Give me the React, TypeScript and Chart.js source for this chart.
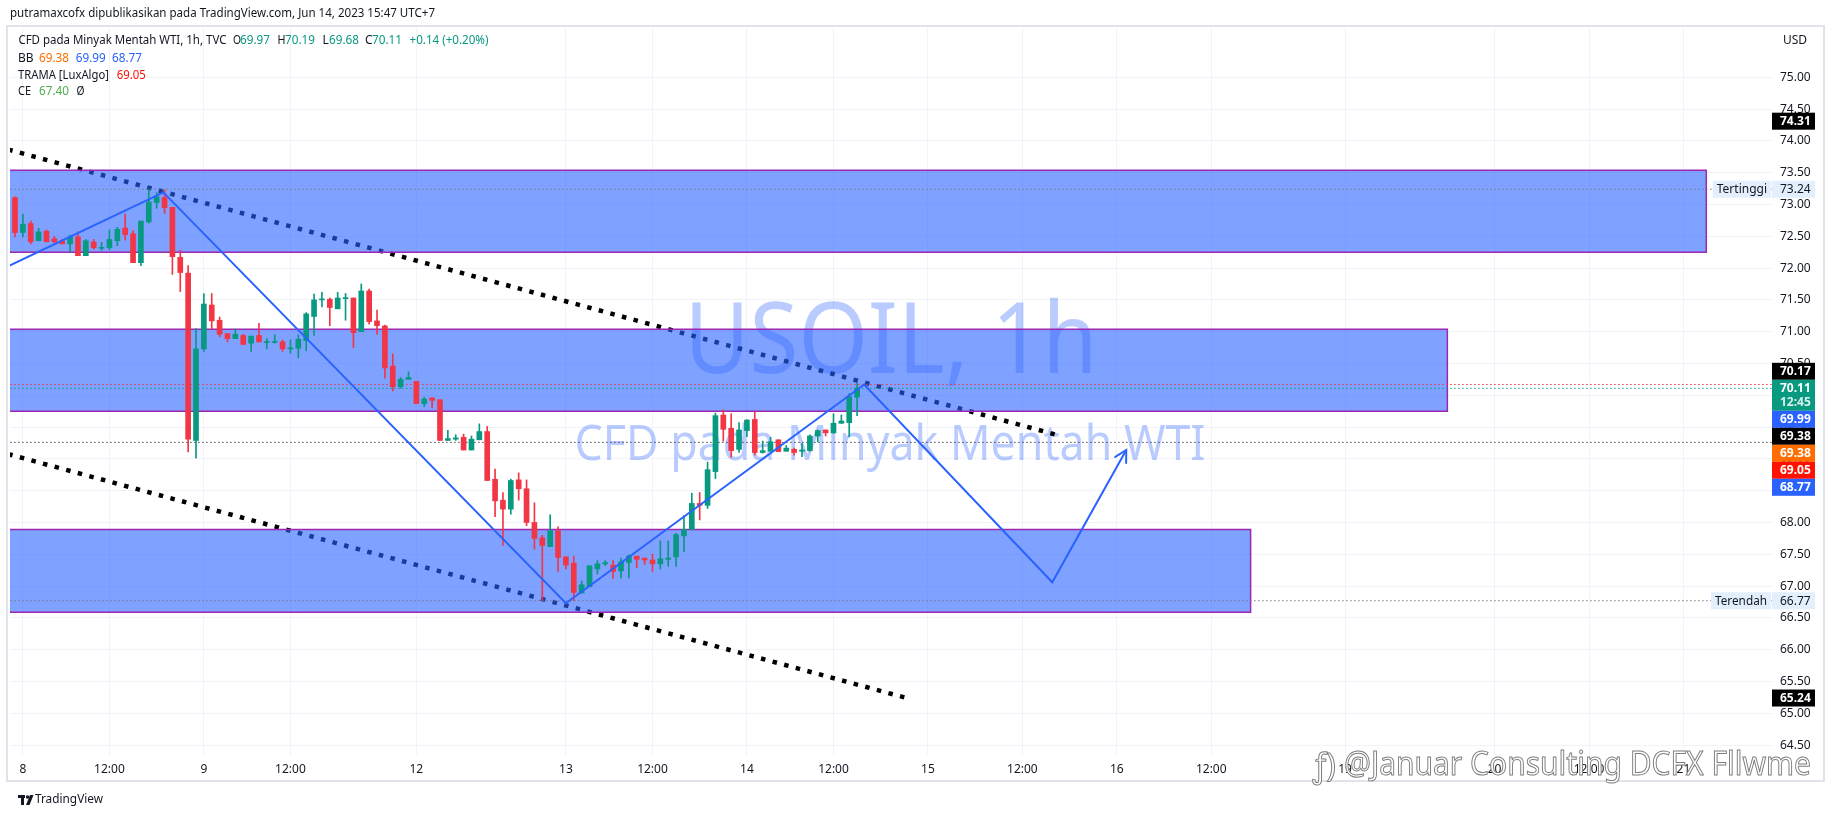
import React, { useEffect, useRef } from "react";
import { Chart, registerables } from "chart.js";

Chart.register(...registerables);

// ---------- data ----------
const opens = [
  73.11, 72.56, 72.70, 72.43, 72.58, 72.46, 72.43, 72.38, 72.49, 72.195,
  72.41, 72.31, 72.32, 72.43, 72.63, 72.54, 72.085, 72.725, 73.03, 73.11,
  72.955, 72.17, 71.92, 69.29, 70.73, 71.42, 71.18, 70.97, 70.89, 70.94,
  70.82, 70.94, 70.83, 70.83, 70.84, 70.73, 70.74, 70.86, 71.24, 71.50,
  71.51, 71.36, 71.52, 71.53, 71.00, 71.64, 71.17, 71.09, 70.46, 70.135,
  70.25, 70.22, 69.87, 69.96, 69.93, 69.29, 69.31, 69.34, 69.14, 69.30,
  69.43, 68.68, 68.35, 68.21, 68.67, 68.53, 68.00, 67.76, 67.62, 67.87,
  67.46, 67.36, 66.89, 66.99, 67.27, 67.35, 67.33, 67.24, 67.37, 67.47,
  67.44, 67.41, 67.35, 67.42, 67.46, 67.79, 67.89, 68.30, 68.27, 68.80,
  69.69, 69.48, 69.15, 69.445, 69.62, 69.10, 69.12, 69.30, 69.12, 69.15,
  69.12, 69.13, 69.36, 69.455, 69.41, 69.56, 69.57, 69.97,
];
const highs = [
  73.12, 72.85, 72.74, 72.625, 72.60, 72.50, 72.45, 72.52, 72.57, 72.45,
  72.45, 72.405, 72.60, 72.64, 72.85, 72.59, 72.74, 73.24, 73.185, 73.23,
  72.955, 72.28, 72.04, 71.05, 71.60, 71.60, 71.23, 70.97, 71.04, 70.96,
  70.93, 71.13, 70.89, 70.95, 70.87, 70.87, 70.95, 71.30, 71.59, 71.62,
  71.53, 71.62, 71.60, 71.53, 71.75, 71.67, 71.34, 71.105, 70.65, 70.28,
  70.37, 70.22, 69.97, 69.96, 69.93, 69.45, 69.38, 69.39, 69.36, 69.55,
  69.51, 68.84, 68.47, 68.68, 68.78, 68.67, 68.31, 67.80, 68.12, 67.93,
  67.46, 67.47, 67.08, 67.32, 67.40, 67.40, 67.40, 67.44, 67.49, 67.47,
  67.44, 67.50, 67.71, 67.71, 67.83, 68.11, 68.46, 68.47, 68.95, 69.72,
  69.77, 69.71, 69.57, 69.62, 69.74, 69.28, 69.34, 69.30, 69.21, 69.17,
  69.24, 69.38, 69.455, 69.455, 69.71, 69.69, 70.03, 70.19,
];
const lows = [
  72.49, 72.49, 72.38, 72.43, 72.41, 72.40, 72.38, 72.26, 72.195, 72.195,
  72.295, 72.28, 72.285, 72.35, 72.44, 72.085, 72.04, 72.71, 72.94, 72.86,
  71.90, 71.63, 69.11, 69.01, 70.69, 71.04, 70.92, 70.84, 70.89, 70.80,
  70.69, 70.84, 70.73, 70.82, 70.69, 70.66, 70.59, 70.70, 70.94, 71.39,
  71.095, 71.36, 71.18, 70.75, 71.00, 71.12, 70.96, 70.27, 70.07, 70.11,
  70.25, 69.87, 69.82, 69.80, 69.29, 69.29, 69.29, 69.14, 69.14, 69.30,
  68.66, 68.09, 67.64, 68.13, 68.35, 67.95, 67.58, 66.78, 67.62, 67.23,
  67.27, 66.77, 66.89, 66.99, 67.19, 67.32, 67.12, 67.13, 67.13, 67.29,
  67.34, 67.23, 67.27, 67.31, 67.31, 67.54, 67.89, 68.04, 68.22, 68.69,
  69.28, 69.025, 69.10, 69.35, 69.06, 69.09, 69.12, 69.115, 69.12, 69.06,
  69.035, 69.12, 69.27, 69.36, 69.40, 69.56, 69.35, 69.68,
];
const closes = [
  72.56, 72.69, 72.415, 72.57, 72.415, 72.415, 72.38, 72.49, 72.195, 72.43,
  72.32, 72.32, 72.45, 72.61, 72.525, 72.085, 72.74, 73.04, 73.12, 72.95,
  72.18, 71.93, 69.31, 70.73, 71.435, 71.17, 70.96, 70.89, 70.96, 70.80,
  70.93, 70.84, 70.84, 70.84, 70.73, 70.74, 70.88, 71.28, 71.50, 71.51,
  71.38, 71.53, 71.53, 70.985, 71.64, 71.16, 71.095, 70.43, 70.135, 70.25,
  70.28, 69.87, 69.94, 69.92, 69.29, 69.32, 69.33, 69.14, 69.31, 69.43,
  68.66, 68.34, 68.21, 68.66, 68.53, 68.00, 67.75, 67.64, 67.87, 67.45,
  67.33, 66.90, 67.02, 67.32, 67.35, 67.37, 67.23, 67.38, 67.47, 67.42,
  67.41, 67.35, 67.43, 67.44, 67.81, 67.89, 68.30, 68.27, 68.83, 69.68,
  69.465, 69.13, 69.455, 69.61, 69.10, 69.13, 69.27, 69.115, 69.17, 69.10,
  69.14, 69.36, 69.445, 69.41, 69.56, 69.595, 69.98, 70.11,
];

const xTickIndex = [1, 12, 24, 35, 51, 70, 81, 93, 104, 116, 128, 140, 152, 169, 188, 200, 212];
const xTickLabels = ["8", "12:00", "9", "12:00", "12", "13", "12:00", "14", "12:00", "15", "12:00", "16", "12:00", "19", "20", "12:00", "21"];
const yTickValues = [64.5, 65, 65.5, 66, 66.5, 67, 67.5, 68, 68.5, 69, 69.5, 70, 70.5, 71, 71.5, 72, 72.5, 73, 73.5, 74, 74.5, 75];

const upperChannelX = [-14.1, 132.3];
const upperChannelY = [74.31, 69.38];
const lowerChannelX = [-14.1, 113.3];
const lowerChannelY = [69.52, 65.24];
const pathX = [-14.1, 18.85, 70.0, 107.9, 131.8, 141.2];
const pathY = [71.25, 73.19, 66.73, 70.17, 67.06, 69.14];

const zoneStart = [-20, -20, -20];
const zoneEnd = [214.9, 182.0, 157.0];
const zoneTop = [73.54, 71.04, 67.89];
const zoneBottom = [72.25, 69.75, 66.59];

const priceLineValues = [73.24, 70.17, 70.11, 69.26, 66.77];
const priceLineColors = ["#787b86", "#f23645", "#089981", "#434651", "#787b86"];

const axisLabelValues = [74.31, 73.24, 70.17, 70.11, 69.99, 69.38, 69.38, 69.05, 68.77, 66.77, 65.24];
const axisLabelColors = ["#000000", "#e3effd", "#000000", "#089981", "#2962ff", "#000000", "#ff6d00", "#ff1100", "#2962ff", "#e3effd", "#000000"];
const axisLabelTags = ["", "Tertinggi", "", "", "", "", "", "", "", "Terendah", ""];
const countdownText = "12:45";

const X_MIN = -0.635;
const X_MAX = 223.25;
const Y_MIN = 64.344;
const Y_MAX = 75.791;

const GREEN = "#089981";
const RED = "#f23645";
const FONT = "'Noto Sans', 'DejaVu Sans', sans-serif";
const TEXT = "#131722";

function txt(ctx: any, s: string, x: number, y: number, color: string, font: string, maxW?: number) {
  ctx.fillStyle = color;
  ctx.font = font;
  ctx.textBaseline = "middle";
  ctx.textAlign = "left";
  if (maxW) ctx.fillText(s, x, y, maxW);
  else ctx.fillText(s, x, y);
}

const pagePlugin = {
  id: "page",
  beforeDraw(chart: any) {
    const ctx = chart.ctx;
    ctx.save();
    ctx.fillStyle = "#ffffff";
    ctx.fillRect(0, 0, chart.width, chart.height);
    ctx.restore();
  },
  beforeDatasetsDraw(chart: any) {
    const ctx = chart.ctx;
    const a = chart.chartArea;
    ctx.save();
    ctx.beginPath();
    ctx.rect(a.left, a.top, a.right - a.left, a.bottom - a.top);
    ctx.clip();
    ctx.fillStyle = "rgba(41, 98, 255, 0.33)";
    ctx.textAlign = "center";
    ctx.textBaseline = "middle";
    ctx.font = `98px ${FONT}`;
    ctx.fillText("USOIL, 1h", 891, 345, 413);
    ctx.font = `49px ${FONT}`;
    ctx.fillText("CFD pada Minyak Mentah WTI", 890, 446, 631);
    ctx.restore();
  },
  afterDatasetsDraw(chart: any) {
    // arrow head at the end of the projected path
    const meta = chart.getDatasetMeta(chart.data.datasets.length - 1);
    const pts = meta.data;
    const p1 = pts[pts.length - 2];
    const p2 = pts[pts.length - 1];
    const ang = Math.atan2(p2.y - p1.y, p2.x - p1.x);
    const ctx = chart.ctx;
    ctx.save();
    ctx.strokeStyle = "#2962ff";
    ctx.lineWidth = 2;
    ctx.lineCap = "round";
    ctx.beginPath();
    const L = 13;
    ctx.moveTo(p2.x - L * Math.cos(ang - 0.5), p2.y - L * Math.sin(ang - 0.5));
    ctx.lineTo(p2.x, p2.y);
    ctx.lineTo(p2.x - L * Math.cos(ang + 0.5), p2.y - L * Math.sin(ang + 0.5));
    ctx.stroke();
    ctx.restore();
  },
  afterDraw(chart: any) {
    const ctx = chart.ctx;
    const ys = chart.scales.y;
    const a = chart.chartArea;
    ctx.save();

    // frame
    ctx.strokeStyle = "#e0e3eb";
    ctx.lineWidth = 2;
    ctx.strokeRect(7, 26, 1824 - 7, 781 - 26);

    // header
    txt(ctx, "putramaxcofx dipublikasikan pada TradingView.com, Jun 14, 2023 15:47 UTC+7", 10, 13, TEXT, `13px ${FONT}`, 425);

    // legend
    const f = `12px ${FONT}`;
    const segs: any[] = [
      ["CFD pada Minyak Mentah WTI, 1h, TVC", 18.4, 41, TEXT, 208],
      ["O", 233, 41, TEXT, 8], ["69.97", 240, 41, GREEN, 30],
      ["H", 277.5, 41, TEXT, 8], ["70.19", 285, 41, GREEN, 30],
      ["L", 322.5, 41, TEXT, 7], ["69.68", 329, 41, GREEN, 30],
      ["C", 365, 41, TEXT, 8], ["70.11", 372, 41, GREEN, 30],
      ["+0.14 (+0.20%)", 409.5, 41, GREEN, 79],
      ["BB", 18, 58.5, TEXT, 16], ["69.38", 39, 58.5, "#ff6d00", 30],
      ["69.99", 75.8, 58.5, "#2962ff", 30], ["68.77", 112, 58.5, "#2962ff", 30],
      ["TRAMA [LuxAlgo]", 18, 75.5, TEXT, 91], ["69.05", 116.7, 75.5, "#ff1100", 29],
      ["CE", 18, 92, TEXT, 13], ["67.40", 39, 92, "#4caf50", 30], ["Ø", 76.5, 92, TEXT, 8],
    ];
    segs.forEach((s) => txt(ctx, s[0], s[1], s[2], s[3], f, s[4]));

    // currency
    txt(ctx, "USD", 1783, 41, TEXT, `12px ${FONT}`);

    // price labels on the axis, stacked around the last price
    const H = 17;
    const items = axisLabelValues.map((v, i) => {
      const h = i === 3 ? 31 : H;
      return { v, i, h, top: ys.getPixelForValue(v) - H / 2 };
    });
    const anchor = 3;
    for (let k = anchor - 1; k >= 0; k--) {
      items[k].top = Math.min(items[k].top, items[k + 1].top - items[k].h);
    }
    for (let k = anchor + 1; k < items.length; k++) {
      items[k].top = Math.max(items[k].top, items[k - 1].top + items[k - 1].h);
    }
    const bx = a.right;
    const bw = 43;
    items.forEach((it) => {
      const bg = axisLabelColors[it.i];
      const light = bg === "#e3effd";
      ctx.fillStyle = bg;
      ctx.fillRect(bx, it.top, bw, it.h);
      const fg = light ? TEXT : "#ffffff";
      const font = light ? `12px ${FONT}` : `bold 12px ${FONT}`;
      txt(ctx, it.v.toFixed(2), bx + 8, it.top + H / 2 + 0.5, fg, font, 32);
      if (it.i === 3) {
        txt(ctx, countdownText, bx + 8, it.top + H / 2 + 14, "rgba(255,255,255,0.85)", `bold 12px ${FONT}`, 32);
      }
      const tag = axisLabelTags[it.i];
      if (tag) {
        ctx.font = `12px ${FONT}`;
        const tw = Math.min(ctx.measureText(tag).width, 52);
        const tx = bx - 1 - tw - 8;
        ctx.fillStyle = bg;
        ctx.fillRect(tx, it.top, tw + 8, it.h);
        txt(ctx, tag, tx + 4, it.top + H / 2 + 0.5, TEXT, `12px ${FONT}`, 52);
      }
    });

    // TradingView logo
    ctx.fillStyle = "#131722";
    ctx.fillRect(18, 795, 7, 3);
    ctx.fillRect(21, 795, 3, 10);
    ctx.beginPath();
    ctx.arc(27.5, 797, 1.7, 0, Math.PI * 2);
    ctx.fill();
    ctx.beginPath();
    ctx.moveTo(30, 795);
    ctx.lineTo(33.5, 795);
    ctx.lineTo(29.5, 805);
    ctx.lineTo(26, 805);
    ctx.closePath();
    ctx.fill();
    txt(ctx, "TradingView", 35, 800, TEXT, `12px ${FONT}`, 68);

    // overlay watermark
    ctx.font = `32px ${FONT}`;
    ctx.textBaseline = "middle";
    ctx.textAlign = "left";
    ctx.lineWidth = 1;
    ctx.strokeStyle = "#7d7d7d";
    ctx.fillStyle = "#ffffff";
    ctx.fillText("ƒ)", 1313, 768, 24);
    ctx.strokeText("ƒ)", 1313, 768, 24);
    ctx.fillText("@Januar Consulting DCFX Fllwme", 1344, 766, 467);
    ctx.strokeText("@Januar Consulting DCFX Fllwme", 1344, 766, 467);

    ctx.restore();
  },
};

export default function App() {
  const ref = useRef<HTMLCanvasElement | null>(null);

  useEffect(() => {
    if (!ref.current) return;
    const idx = opens.map((_, i) => i);
    const colors = idx.map((i) => (closes[i] >= opens[i] ? GREEN : RED));

    const datasets: any[] = [];
    datasets.push({
      type: "line",
      data: upperChannelX.map((x, i) => ({ x, y: upperChannelY[i] })),
      borderColor: "#000000",
      borderWidth: 4.5,
      borderDash: [4.5, 7.5],
      pointRadius: 0,
      fill: false,
      order: 30,
    });
    datasets.push({
      type: "line",
      data: lowerChannelX.map((x, i) => ({ x, y: lowerChannelY[i] })),
      borderColor: "#000000",
      borderWidth: 4.5,
      borderDash: [4.5, 7.5],
      pointRadius: 0,
      fill: false,
      order: 30,
    });
    zoneTop.forEach((t, z) => {
      const b = zoneBottom[z];
      const s = zoneStart[z];
      const e = zoneEnd[z];
      datasets.push({
        type: "line",
        data: [
          { x: s, y: t },
          { x: e, y: t },
          { x: e, y: b },
          { x: s, y: b },
          { x: s, y: t },
        ],
        borderColor: "#9c27b0",
        borderWidth: 1.5,
        backgroundColor: "rgba(41, 98, 255, 0.6)",
        fill: "shape",
        pointRadius: 0,
        tension: 0,
        order: 25,
      });
    });
    priceLineValues.forEach((v, k) => {
      datasets.push({
        type: "line",
        data: [
          { x: X_MIN - 1, y: v },
          { x: X_MAX + 1, y: v },
        ],
        borderColor: priceLineColors[k],
        borderWidth: 1,
        borderDash: [1.5, 2.5],
        pointRadius: 0,
        fill: false,
        order: 20,
      });
    });
    datasets.push({
      type: "bar",
      data: idx.map((i) => ({ x: i, y: [lows[i], highs[i]] })),
      backgroundColor: colors,
      borderWidth: 0,
      barThickness: 1,
      grouped: false,
      order: 12,
    });
    datasets.push({
      type: "bar",
      data: idx.map((i) => ({ x: i, y: [opens[i], closes[i]] })),
      backgroundColor: colors,
      borderWidth: 0,
      barThickness: 5,
      minBarLength: 1,
      grouped: false,
      order: 11,
    });
    datasets.push({
      type: "line",
      data: pathX.map((x, i) => ({ x, y: pathY[i] })),
      borderColor: "#2962ff",
      borderWidth: 2,
      pointRadius: 0,
      fill: false,
      tension: 0,
      order: 5,
    });

    const chart = new Chart(ref.current, {
      type: "bar",
      data: { datasets },
      options: {
        responsive: false,
        maintainAspectRatio: false,
        animation: false,
        events: [],
        devicePixelRatio: 1,
        layout: { padding: { left: 10, top: 27, right: 0, bottom: 0 } },
        plugins: {
          legend: { display: false },
          tooltip: { enabled: false },
        },
        scales: {
          x: {
            type: "linear",
            min: X_MIN,
            max: X_MAX,
            offset: false,
            grid: { color: "#f0f3fa", drawTicks: false, offset: false },
            border: { display: false },
            ticks: {
              autoSkip: false,
              maxRotation: 0,
              padding: 7,
              color: TEXT,
              font: { family: FONT, size: 12 },
              callback: (_v: any, i: number) => xTickLabels[i],
            },
            afterBuildTicks: (s: any) => {
              s.ticks = xTickIndex.map((v) => ({ value: v }));
            },
            afterFit: (s: any) => {
              s.height = 63;
            },
          },
          y: {
            type: "linear",
            position: "right",
            min: Y_MIN,
            max: Y_MAX,
            grid: { color: "#f0f3fa", drawTicks: false },
            border: { display: false },
            ticks: {
              padding: 8,
              color: TEXT,
              font: { family: FONT, size: 12 },
              callback: (v: any) => Number(v).toFixed(2),
            },
            afterBuildTicks: (s: any) => {
              s.ticks = yTickValues.map((v) => ({ value: v }));
            },
            afterFit: (s: any) => {
              s.width = 62;
            },
          },
        },
      } as any,
      plugins: [pagePlugin as any],
    });
    return () => chart.destroy();
  }, []);

  return (
    <canvas
      ref={ref}
      width={1834}
      height={818}
      style={{ position: "absolute", left: 0, top: 0, width: 1834, height: 818, display: "block" }}
    />
  );
}
